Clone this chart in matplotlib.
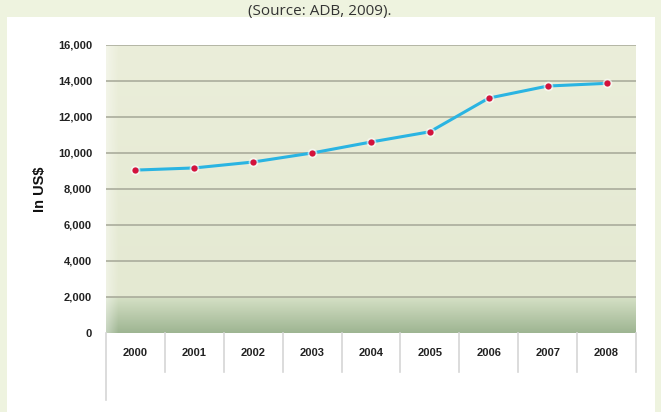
import numpy as np
import matplotlib
matplotlib.use("Agg")
import matplotlib.pyplot as plt
from matplotlib.patches import Rectangle
from matplotlib.lines import Line2D

years = ["2000", "2001", "2002", "2003", "2004", "2005", "2006", "2007", "2008"]
values = [9050, 9170, 9500, 10000, 10610, 11180, 13050, 13720, 13870]
yticks = [0, 2000, 4000, 6000, 8000, 10000, 12000, 14000, 16000]
ytick_labels = ["0", "2,000", "4,000", "6,000", "8,000", "10,000", "12,000", "14,000", "16,000"]

W, H = 661, 412
fig = plt.figure(figsize=(W / 100, H / 100), dpi=100)
fig.patch.set_facecolor("#eef3df")

# white inner panel
fig.patches.append(Rectangle((7 / W, 0), (655 - 7) / W, (H - 17) / H,
                             transform=fig.transFigure, facecolor="white",
                             edgecolor="none", zorder=-5))

# caption at top
fig.text(320 / W, 1 - 15 / H, "(Source: ADB, 2009).", ha="center", va="baseline",
         fontsize=11, color="#333333", family="Open Sans")

left, right, top, bottom = 106, 636, 45, 333
ax = fig.add_axes([left / W, (H - bottom) / H, (right - left) / W, (bottom - top) / H])
ax.set_xlim(-0.5, len(years) - 0.5)
ax.set_ylim(0, 16000)

# gradient background
n = 400
yy = np.linspace(16000, 0, n)
cols = []
top_c = np.array([0xeb, 0xee, 0xda]) / 255
mid_c = np.array([0xe4, 0xe9, 0xd2]) / 255
band_top = np.array([0xd6, 0xe1, 0xc6]) / 255
band_bot = np.array([0x9e, 0xb5, 0x92]) / 255
for v in yy:
    if v > 2000:
        t = (16000 - v) / 14000
        cols.append(top_c * (1 - t) + mid_c * t)
    else:
        t = (2000 - v) / 2000
        cols.append(band_top * (1 - t) + band_bot * t)
ncol = right - left
img = np.array(cols)[:, None, :].repeat(ncol, axis=1)
fade = np.clip(np.linspace(0, ncol, ncol) / 12, 0, 1)[None, :, None]
img = img * (fade + (1 - fade) * 0.6) + np.ones(3)[None, None, :] * (1 - fade) * 0.4
ax.imshow(img, extent=[-0.5, len(years) - 0.5, 0, 16000], aspect="auto", zorder=0)

for t in yticks[1:]:
    ax.axhline(t, color="#a5a797", lw=1.1, zorder=1)

x = np.arange(len(years))
ax.plot(x, values, color="#2ab4e2", lw=2.2, zorder=3)
ax.plot(x, values, "o", color="white", ms=7, alpha=0.6, zorder=3.5, markeredgewidth=0)
ax.plot(x, values, "o", color="#d3123c", ms=4.5, zorder=4, markeredgewidth=0)

ax.set_yticks(yticks)
ax.set_yticklabels(ytick_labels, fontsize=8, fontweight="bold", family="Liberation Sans",
                   color="#222222")
ax.tick_params(axis="y", length=0, pad=10)
ax.set_xticks(x)
ax.set_xticklabels(years, fontsize=8, fontweight="bold", family="Liberation Sans",
                   color="#222222")
ax.tick_params(axis="x", length=0, pad=11)
for s in ax.spines.values():
    s.set_visible(False)

# category separators below the axis
for i in range(len(years) + 1):
    xb = (left + i * (right - left) / len(years)) / W
    y0 = (H - bottom) / H
    y1 = (H - (400 if i == 0 else 372)) / H
    fig.add_artist(Line2D([xb, xb], [y0, y1], transform=fig.transFigure,
                          color="#d6d6d6", lw=1.2, zorder=2))

ax.set_ylabel("In US$", fontsize=10.5, fontweight="bold", family="Liberation Sans",
              color="#111111", labelpad=8)

fig.savefig("out.png", dpi=100, facecolor=fig.get_facecolor())
